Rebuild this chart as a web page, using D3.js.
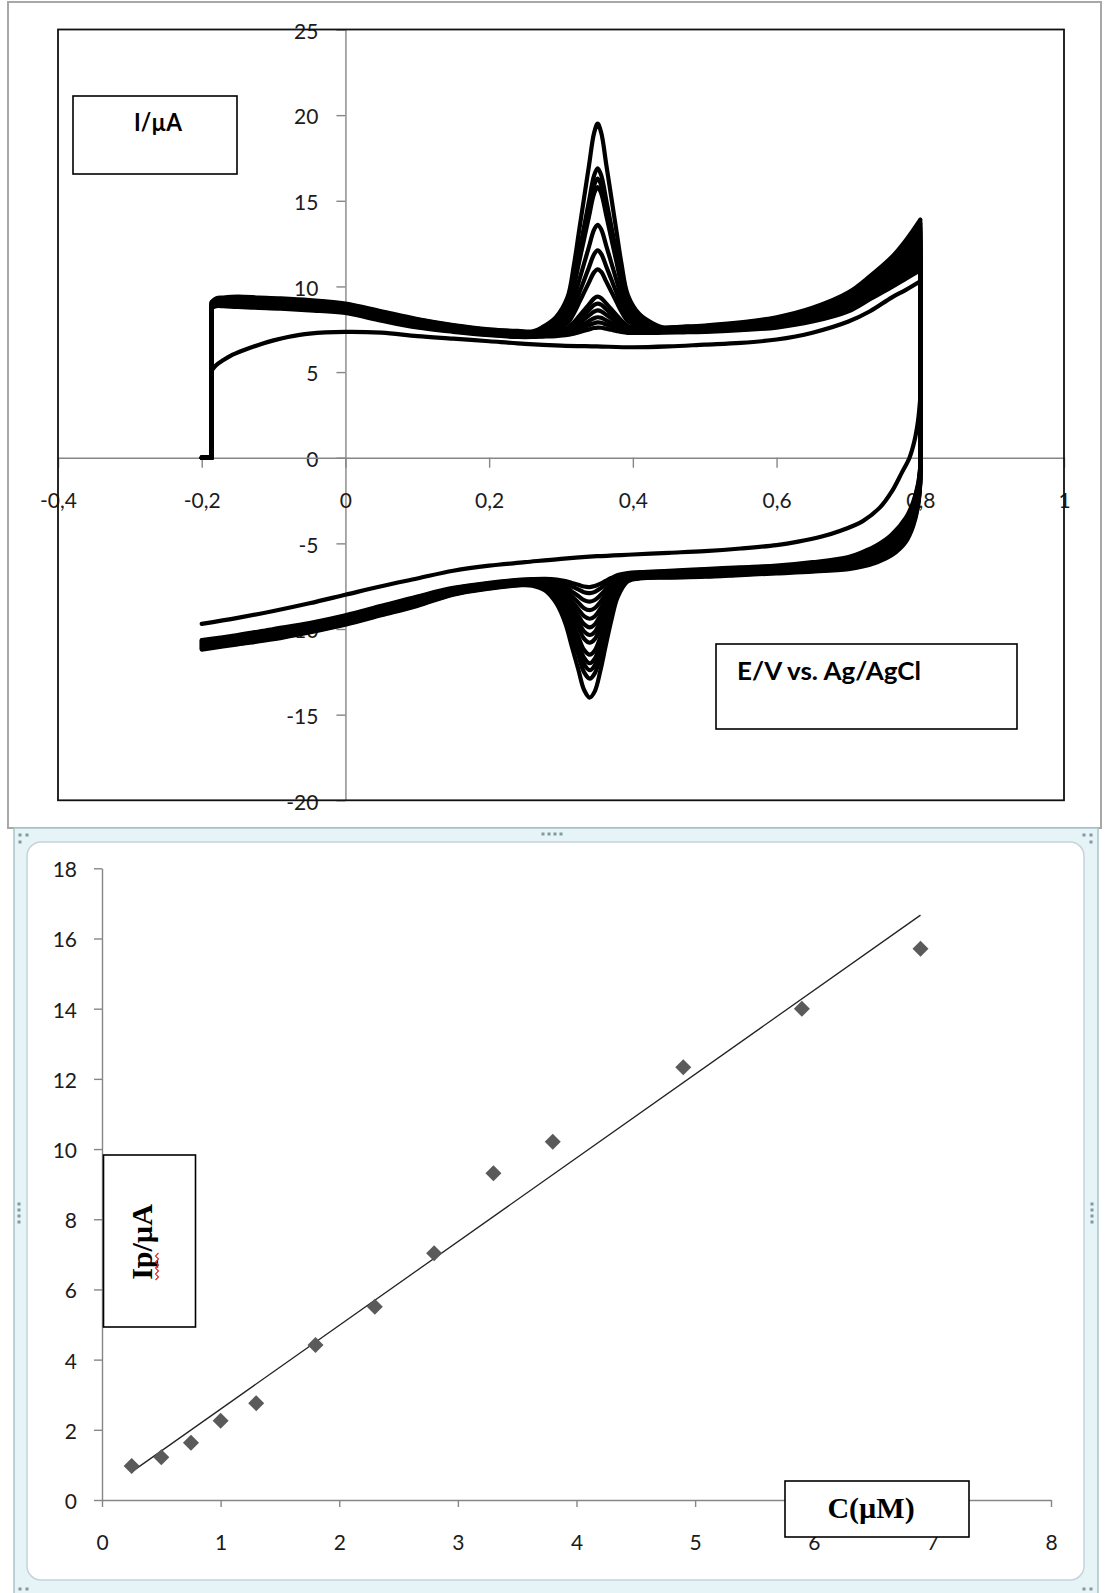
<!DOCTYPE html>
<html>
<head>
<meta charset="utf-8">
<script src="https://cdn.jsdelivr.net/npm/d3@7"></script>
<style>
  html, body { margin: 0; padding: 0; background: #fff; }
  svg { display: block; }
</style>
</head>
<body>
<svg id="fig" width="1105" height="1593"></svg>
<script>
// ================= Cyclic voltammograms (upper figure) =================
const cvXTicks = [-0.4, -0.2, 0, 0.2, 0.4, 0.6, 0.8, 1];
const cvYTicks = [25, 20, 15, 10, 5, 0, -5, -10, -15, -20];

const scanStartE = -0.2;   // V, start of every sweep
const jumpE = -0.186;      // V, potential where the current steps up
const switchE = 0.8;       // V, reversal potential

// Forward (anodic) sweep of the analyte curves: the band is bounded by a low and a high trace.
const anodicE = [-0.186, -0.18, -0.17, -0.15, -0.12, -0.09, -0.05, 0, 0.05, 0.10, 0.15, 0.20, 0.24,
  0.261, 0.274, 0.293, 0.309, 0.318, 0.325, 0.332, 0.339, 0.346, 0.351, 0.356, 0.363, 0.370, 0.377, 0.384, 0.393, 0.409, 0.428, 0.441,
  0.47, 0.50, 0.55, 0.60, 0.65, 0.70, 0.73, 0.76, 0.78, 0.80];
const anodicLow = [8.75, 8.85, 8.85, 8.8, 8.75, 8.7, 8.6, 8.45, 8.0, 7.6, 7.35, 7.15, 7.05,
  7.05, 7.06, 7.07, 7.09, 7.1, 7.11, 7.12, 7.13, 7.14, 7.15, 7.16, 7.17, 7.18, 7.19, 7.2, 7.22, 7.25, 7.28, 7.3,
  7.32, 7.35, 7.45, 7.6, 7.95, 8.55, 9.25, 9.95, 10.45, 10.95];
const anodicHigh = [9.1, 9.3, 9.35, 9.4, 9.35, 9.3, 9.2, 9.0, 8.55, 8.1, 7.75, 7.5, 7.4,
  7.38, 7.38, 7.39, 7.4, 7.41, 7.42, 7.43, 7.44, 7.45, 7.46, 7.47, 7.48, 7.49, 7.5, 7.52, 7.54, 7.57, 7.6, 7.62,
  7.66, 7.72, 7.9, 8.2, 8.75, 9.65, 10.6, 11.7, 12.7, 13.9];
// share of the oxidation peak above the background at each potential
const anodicPeakShape = [0, 0, 0, 0, 0, 0, 0, 0, 0, 0, 0, 0, 0,
  0, 0.02, 0.068, 0.163, 0.32, 0.48, 0.64, 0.80, 0.955, 1, 0.955, 0.80, 0.64, 0.48, 0.32, 0.163, 0.068, 0.02, 0,
  0, 0, 0, 0, 0, 0, 0, 0, 0, 0];

// Reverse (cathodic) sweep of the analyte curves.
const cathodicE = [0.80, 0.797, 0.79, 0.78, 0.76, 0.74, 0.72, 0.70, 0.65, 0.60, 0.55, 0.50, 0.45,
  0.41, 0.393, 0.379, 0.370, 0.362, 0.355, 0.347, 0.340, 0.332, 0.324, 0.315, 0.306, 0.294, 0.278, 0.26, 0.245,
  0.20, 0.15, 0.10, 0.05, 0, -0.05, -0.10, -0.15, -0.20];
const cathodicHigh = [-0.5, -1.5, -2.6, -3.5, -4.5, -5.1, -5.5, -5.8, -6.1, -6.3, -6.4, -6.5, -6.6,
  -6.68, -6.72, -6.75, -6.78, -6.8, -6.82, -6.84, -6.86, -6.88, -6.9, -6.93, -6.96, -6.99, -7.03, -7.08, -7.12,
  -7.3, -7.6, -8.1, -8.65, -9.2, -9.65, -10.0, -10.35, -10.65];
const cathodicLow = [-1.5, -2.8, -4.0, -4.9, -5.7, -6.1, -6.35, -6.5, -6.65, -6.75, -6.85, -6.95, -7.0,
  -7.05, -7.08, -7.1, -7.12, -7.14, -7.16, -7.18, -7.2, -7.22, -7.24, -7.26, -7.28, -7.31, -7.35, -7.4, -7.44,
  -7.65, -8.0, -8.65, -9.2, -9.75, -10.2, -10.6, -10.9, -11.2];
const cathodicPeakShape = [0, 0, 0, 0, 0, 0, 0, 0, 0, 0, 0, 0, 0,
  0, 0.02, 0.15, 0.35, 0.57, 0.77, 0.95, 1, 0.93, 0.75, 0.55, 0.35, 0.18, 0.06, 0.01, 0,
  0, 0, 0, 0, 0, 0, 0, 0, 0];

// One entry per analyte curve (µA at the peak potential) and its place inside the background band.
const anodicPeaks = [19.5, 16.9, 16.3, 15.8, 13.6, 12.1, 11.0, 9.4, 9.0, 8.6, 8.2, 7.9, 7.6];
const cathodicPeaks = [-14.0, -12.9, -12.4, -12.0, -11.5, -10.8, -10.35, -9.9, -9.4, -8.9, -8.4, -7.9, -7.55];
const bandPosition = [1.0, 0.92, 0.83, 0.75, 0.67, 0.58, 0.5, 0.42, 0.33, 0.25, 0.17, 0.08, 0.0];

// Blank electrolyte (no analyte)
const blankAnodicE = [-0.186, -0.18, -0.17, -0.16, -0.14, -0.12, -0.10, -0.08, -0.05, 0, 0.05, 0.10, 0.15, 0.20,
  0.25, 0.30, 0.35, 0.40, 0.45, 0.50, 0.55, 0.60, 0.65, 0.70, 0.73, 0.76, 0.78, 0.80];
const blankAnodicI = [5.1, 5.4, 5.7, 5.95, 6.3, 6.6, 6.85, 7.05, 7.25, 7.35, 7.3, 7.1, 6.95, 6.8,
  6.65, 6.55, 6.5, 6.45, 6.5, 6.6, 6.7, 6.9, 7.3, 7.95, 8.55, 9.35, 9.8, 10.3];
const blankCathodicE = [0.80, 0.797, 0.792, 0.785, 0.774, 0.76, 0.744, 0.72, 0.69, 0.663, 0.63, 0.60, 0.55, 0.50,
  0.45, 0.40, 0.35, 0.30, 0.25, 0.20, 0.15, 0.10, 0.05, 0, -0.05, -0.10, -0.15, -0.20];
const blankCathodicI = [3.5, 2.2, 1.0, 0, -0.9, -2.0, -2.9, -3.7, -4.25, -4.6, -4.9, -5.1, -5.3, -5.45,
  -5.55, -5.65, -5.75, -5.9, -6.1, -6.3, -6.6, -7.05, -7.5, -8.0, -8.5, -8.95, -9.35, -9.7];

// ================= Calibration plot (lower figure) =================
const concentration = [0.25, 0.5, 0.75, 1.0, 1.3, 1.8, 2.3, 2.8, 3.3, 3.8, 4.9, 5.9, 6.9];   // µM
const peakCurrent = [0.97, 1.22, 1.63, 2.26, 2.76, 4.42, 5.51, 7.03, 9.31, 10.21, 12.33, 14.0, 15.71]; // µA
const calXTicks = [0, 1, 2, 3, 4, 5, 6, 7, 8];
const calYTicks = [0, 2, 4, 6, 8, 10, 12, 14, 16, 18];

// -----------------------------------------------------------------------
const svg = d3.select("#fig");
const tickFont = "Lato, 'Open Sans', sans-serif";
const axisGrey = "#868686";

function styleAxis(g) {
  g.attr("font-family", tickFont).attr("font-size", 21);
  g.selectAll("path.domain").attr("stroke", axisGrey).attr("stroke-width", 1.4);
  g.selectAll(".tick line").attr("stroke", axisGrey).attr("stroke-width", 1.4);
  g.selectAll(".tick text").attr("fill", "#1b1b1b");
}

// ---------- upper figure ----------
const cvFig = svg.append("g");
cvFig.append("rect").attr("x", 8).attr("y", 2).attr("width", 1093).attr("height", 826)
  .attr("fill", "#fff").attr("stroke", "#a8a8a8").attr("stroke-width", 2);

const xE = d3.scaleLinear().domain([-0.4, 1]).range([58, 1064]);
const yI = d3.scaleLinear().domain([-20, 25]).range([800.3, 29.5]);
const commaFmt = d => String(d).replace(".", ",");

const yAx = cvFig.append("g").attr("transform", `translate(${xE(0)},0)`)
  .call(d3.axisLeft(yI).tickValues(cvYTicks).tickSize(9).tickSizeOuter(0).tickPadding(18).tickFormat(d => String(d)));
styleAxis(yAx);
yAx.selectAll(".tick text").attr("dy", "0.42em");

const xAx = cvFig.append("g").attr("transform", `translate(0,${yI(0)})`)
  .call(d3.axisBottom(xE).tickValues(cvXTicks).tickSize(10).tickSizeOuter(0).tickPadding(25).tickFormat(commaFmt));
styleAxis(xAx);

// plot frame
cvFig.append("rect").attr("x", xE(-0.4)).attr("y", yI(25))
  .attr("width", xE(1) - xE(-0.4)).attr("height", yI(-20) - yI(25))
  .attr("fill", "none").attr("stroke", "#111").attr("stroke-width", 1.8);

// curves
const smooth = d3.line().x(d => xE(d[0])).y(d => yI(d[1])).curve(d3.curveCatmullRom.alpha(0.5));
const straight = d3.line().x(d => xE(d[0])).y(d => yI(d[1]));

function cyclePath(fwd, rev) {
  return straight([[scanStartE, 0], [jumpE, 0], fwd[0]]) +
         smooth(fwd) +
         straight([fwd[fwd.length - 1], rev[0]]) +
         smooth(rev);
}

const curves = cvFig.append("g").attr("fill", "none").attr("stroke", "#000")
  .attr("stroke-width", 4.2).attr("stroke-linecap", "round").attr("stroke-linejoin", "round");

const aPeakIdx = anodicPeakShape.indexOf(1);
const cPeakIdx = cathodicPeakShape.indexOf(1);

// blank
curves.append("path").attr("d", cyclePath(
  blankAnodicE.map((e, i) => [e, blankAnodicI[i]]),
  blankCathodicE.map((e, i) => [e, blankCathodicI[i]])));

// analyte curves
anodicPeaks.forEach((pk, k) => {
  const t = bandPosition[k];
  const aBase = i => anodicLow[i] + t * (anodicHigh[i] - anodicLow[i]);
  const cBase = i => cathodicHigh[i] + t * (cathodicLow[i] - cathodicHigh[i]);
  const aAmp = pk - aBase(aPeakIdx);
  const cAmp = cathodicPeaks[k] - cBase(cPeakIdx);
  const fwd = anodicE.map((e, i) => [e, aBase(i) + aAmp * anodicPeakShape[i]]);
  const rev = cathodicE.map((e, i) => [e, cBase(i) + cAmp * cathodicPeakShape[i]]);
  curves.append("path").attr("d", cyclePath(fwd, rev));
});

// axis title boxes
const boxStyle = s => s.attr("fill", "#fff").attr("stroke", "#000").attr("stroke-width", 1.6);
cvFig.append("rect").attr("x", 73).attr("y", 96).attr("width", 164).attr("height", 78).call(boxStyle);
cvFig.append("text").attr("x", 158).attr("y", 131).attr("text-anchor", "middle")
  .attr("font-family", tickFont).attr("font-weight", 700).attr("font-size", 24)
  .attr("textLength", 48).attr("lengthAdjust", "spacingAndGlyphs").text("I/µA");

cvFig.append("rect").attr("x", 716).attr("y", 644).attr("width", 301).attr("height", 85).call(boxStyle);
cvFig.append("text").attr("x", 737).attr("y", 680)
  .attr("font-family", tickFont).attr("font-weight", 700).attr("font-size", 24)
  .attr("textLength", 184).attr("lengthAdjust", "spacingAndGlyphs").text("E/V vs. Ag/AgCl");

// ---------- lower figure (chart area with selection frame) ----------
const calFig = svg.append("g");
calFig.append("rect").attr("x", 14).attr("y", 828).attr("width", 1084).attr("height", 780)
  .attr("fill", "#e6f4f7").attr("stroke", "#a9c4ca").attr("stroke-width", 1.5);
calFig.append("rect").attr("x", 27).attr("y", 842).attr("width", 1057).attr("height", 738).attr("rx", 14)
  .attr("fill", "#fff").attr("stroke", "#c5d4d8").attr("stroke-width", 1.5);

// frame handles
const handleDots = [];
[[543, 834], [549, 834], [555, 834], [561, 834]].forEach(p => handleDots.push(p));
[[20, 835], [27, 835], [20, 842]].forEach(p => handleDots.push(p));
[[1091, 835], [1084, 835], [1091, 842]].forEach(p => handleDots.push(p));
[[19, 1204], [19, 1210], [19, 1216], [19, 1222]].forEach(p => handleDots.push(p));
[[1092, 1204], [1092, 1210], [1092, 1216], [1092, 1222]].forEach(p => handleDots.push(p));
[[20, 1589], [27, 1589]].forEach(p => handleDots.push(p));
[[1084, 1589], [1091, 1589]].forEach(p => handleDots.push(p));
calFig.selectAll("rect.handle").data(handleDots).join("rect").attr("class", "handle")
  .attr("x", d => d[0] - 1.5).attr("y", d => d[1] - 1.5).attr("width", 3).attr("height", 3)
  .attr("fill", "#7f9aa1");

const xC = d3.scaleLinear().domain([0, 8]).range([102, 1051]);
const yP = d3.scaleLinear().domain([0, 18]).range([1500, 868.3]);

const yAx2 = calFig.append("g").attr("transform", `translate(${xC(0)},0)`)
  .call(d3.axisLeft(yP).tickValues(calYTicks).tickSize(8).tickSizeOuter(0).tickPadding(17));
styleAxis(yAx2);
yAx2.selectAll(".tick text").attr("dy", "0.4em");
const xAx2 = calFig.append("g").attr("transform", `translate(0,${yP(0)})`)
  .call(d3.axisBottom(xC).tickValues(calXTicks).tickSize(7).tickSizeOuter(0).tickPadding(28));
styleAxis(xAx2);

// least-squares line through the calibration points
const mx = d3.mean(concentration), my = d3.mean(peakCurrent);
const sxy = d3.sum(concentration, (c, i) => (c - mx) * (peakCurrent[i] - my));
const sxx = d3.sum(concentration, c => (c - mx) * (c - mx));
const slope = sxy / sxx, intercept = my - slope * mx;
const cExt = d3.extent(concentration);
calFig.append("line")
  .attr("x1", xC(cExt[0])).attr("y1", yP(intercept + slope * cExt[0]))
  .attr("x2", xC(cExt[1])).attr("y2", yP(intercept + slope * cExt[1]))
  .attr("stroke", "#222").attr("stroke-width", 1.3);

// diamond markers
const diamond = d3.symbol().type(d3.symbolSquare).size(128);
calFig.selectAll("path.pt").data(concentration).join("path").attr("class", "pt")
  .attr("d", diamond)
  .attr("transform", (c, i) => `translate(${xC(c)},${yP(peakCurrent[i])}) rotate(45)`)
  .attr("fill", "#5a5a5a");

// axis title boxes
const serif = "'Liberation Serif', 'Times New Roman', serif";
calFig.append("rect").attr("x", 103.5).attr("y", 1155).attr("width", 92).attr("height", 172).call(boxStyle);
const ipX = 152, ipY = 1242;
calFig.append("text").attr("transform", `translate(${ipX},${ipY}) rotate(-90)`).attr("text-anchor", "middle")
  .attr("font-family", serif).attr("font-weight", 700).attr("font-size", 30).text("Ip/µA");
// spell-check squiggle under "Ip"
const sq = [];
for (let k = 0; k <= 9; k++) sq.push([ipX + 3.5 + (k % 2 ? 3 : 0), ipY + 38 - k * 3]);
calFig.append("path").attr("d", d3.line()(sq)).attr("fill", "none").attr("stroke", "#e02020").attr("stroke-width", 1.1);

calFig.append("rect").attr("x", 785).attr("y", 1481).attr("width", 184).attr("height", 56).call(boxStyle);
calFig.append("text").attr("x", 871).attr("y", 1518).attr("text-anchor", "middle")
  .attr("font-family", serif).attr("font-weight", 700).attr("font-size", 30).text("C(µM)");
</script>
</body>
</html>
